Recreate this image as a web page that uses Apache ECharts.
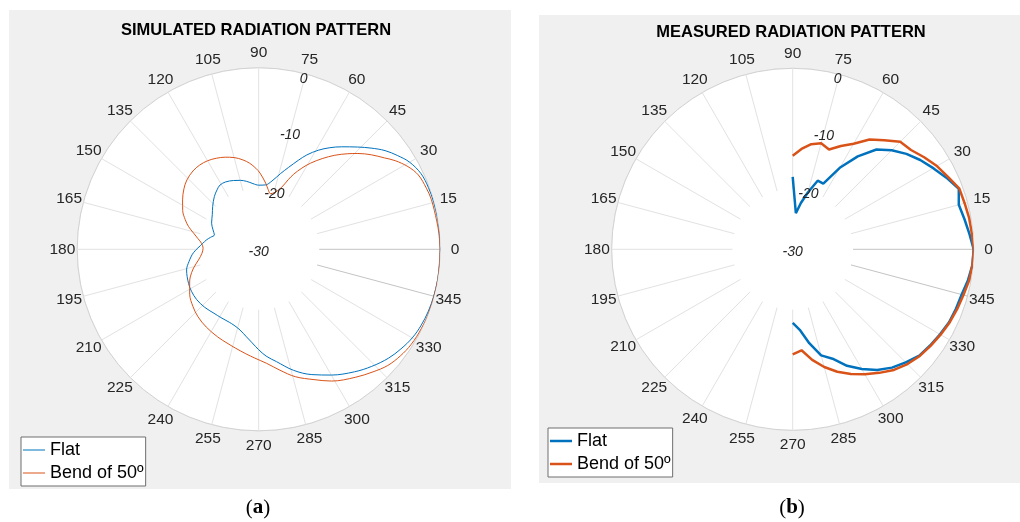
<!DOCTYPE html>
<html><head><meta charset="utf-8">
<script src="https://cdn.jsdelivr.net/npm/echarts@6/dist/echarts.min.js"></script>
<style>html,body{margin:0;padding:0;background:#fff}#c{width:1020px;height:522px}</style>
</head><body><div id="c"></div>
<script>
// ---------- DATA ----------
const seriesNames = ['Flat', 'Bend of 50º'];
const panelTitles = ['SIMULATED RADIATION PATTERN', 'MEASURED RADIATION PATTERN'];
const captions = ['a', 'b'];
const radiusTicks = [-30, -20, -10, 0];
const angleTicks = [0,15,30,45,60,75,90,105,120,135,150,165,180,195,210,225,240,255,270,285,300,315,330,345];

// Simulated (a) — Flat
const simFlatDeg = [0,8,15,20,25,30,34,38,42,46,51,55,59,63,66,70,74,79,84,90,95,100,105,110,116,121,125,130,137,143,151,157,162,166,170,174,183,190,196,206,212,219,227,235,241,248,252,257,262,266,270,274,279,286,293,300,308,314,320,325,330,335,340,345,350,355,360];
const simFlatDb  = [0,0,-0.05,-0.15,-0.4,-1.2,-2.3,-3.5,-5.0,-6.5,-8.2,-9.5,-10.9,-12.5,-13.9,-15.6,-17.0,-18.5,-19.3,-19.4,-19.1,-18.6,-18.2,-17.9,-17.6,-17.6,-18.0,-18.6,-19.6,-20.4,-21.1,-21.8,-22.3,-21.8,-21.2,-20.7,-19.2,-18.3,-17.6,-17.1,-16.9,-16.8,-16.9,-17.1,-17.1,-17.0,-16.8,-16.3,-15.4,-14.5,-13.4,-12.3,-11.2,-9.2,-7.5,-6.0,-4.3,-3.1,-2.0,-1.3,-0.7,-0.35,-0.15,-0.05,0,0,0];
// Simulated (a) — Bend of 50º
const simBendDeg = [0,5,9,16,20,25,29,33,36,40,44,47,51,55,59,62,65,67,70,74,78,81,84,89,92,96,100,105,110,115,120,125,130,136,141,147,153,158,162,166,170,174,179,184,190,196,202,206,213,221,228,236,245,252,257,263,268,274,280,286,293,299,307,313,318,323,328,334,340,350,360];
const simBendDb  = [0,-0.1,-0.2,-0.3,-0.5,-0.9,-1.8,-3.1,-4.3,-5.7,-7.2,-8.4,-10.0,-11.7,-13.4,-14.8,-16.3,-17.5,-19.2,-20.2,-20.6,-20.0,-19.0,-17.4,-16.6,-15.7,-15.0,-14.3,-13.8,-13.4,-13.1,-13.0,-13.1,-13.5,-14.1,-15.0,-15.9,-16.9,-17.8,-18.9,-19.8,-20.5,-20.8,-20.6,-19.9,-18.8,-17.8,-17.3,-16.4,-15.6,-15.0,-14.5,-14.0,-13.6,-13.2,-12.6,-12.0,-11.1,-9.7,-8.1,-6.6,-5.1,-3.5,-2.3,-1.3,-0.7,-0.3,-0.1,0,0,0];

// Measured (b) — 5 degree steps from 270 through 0 to 90
const measDeg = [270,275,280,285,290,295,300,305,310,315,320,325,330,335,340,345,350,355,0,5,10,15,20,25,30,35,40,45,50,55,60,65,70,75,80,85,90];
const measFlatDb = [-17.8,-16.6,-14.2,-11.8,-10.7,-8.7,-7.1,-5.6,-4.4,-3.5,-2.6,-2.2,-1.8,-1.4,-1.2,-1.0,-0.5,-0.1,0,-0.6,-1.1,-1.5,-0.7,-1.9,-3.1,-4.2,-5.4,-6.8,-8.4,-11.2,-14.4,-18.0,-17.9,-20.2,-22.2,-24.0,-18.0];
const measBendDb = [-12.6,-13.2,-11.4,-9.8,-8.4,-7.2,-6.1,-5.0,-3.9,-3.1,-2.5,-2.1,-1.7,-1.3,-1.0,-0.7,-0.3,-0.1,0,-0.2,-0.3,-0.5,-0.6,-1.6,-2.4,-3.4,-4.4,-4.8,-6.4,-7.8,-9.8,-11.1,-12.4,-11.8,-12.3,-13.3,-14.5];

// ---------- STYLE ----------
const FONT = '"Liberation Sans", Arial, Helvetica, sans-serif';
const SERIF = '"Liberation Serif", "DejaVu Serif", serif';
const BLUE = '#0072BD', ORANGE = '#D95319';
const TXT = '#262626';
const LABEL_R = 2.45; // angle labels sit just beyond the 0 dB ring (in axis units)

const chart = echarts.init(document.getElementById('c'), null, {renderer: 'canvas'});

const polars = [
  {center: [258.7, 249.3], radius: 181.5},
  {center: [792.7, 249.3], radius: 181}
];

function angleAxis(i) {
  return {
    polarIndex: i, type: 'value', min: 0, max: 360, interval: 15,
    startAngle: 0, clockwise: false,
    axisLine: {show: true, lineStyle: {color: '#d2d2d2', width: 1}},
    axisTick: {show: false},
    axisLabel: {show: false},
    splitLine: {show: false},
    splitArea: {show: true, areaStyle: {color: ['#ffffff']}}
  };
}
function radiusAxis(i) {
  return {
    polarIndex: i, type: 'value', min: -30, max: 0, interval: 10,
    axisLine: {show: false}, axisTick: {show: false}, axisLabel: {show: false},
    splitLine: {show: true, lineStyle: {color: '#e0e0e0', width: 1}}
  };
}
function spokeSeries(i) {
  return {
    type: 'custom', coordinateSystem: 'polar', polarIndex: i, z: 1, silent: true,
    data: angleTicks.map(a => [0, a]),
    renderItem: (params, api) => {
      const a = api.value(1);
      const p1 = api.coord([-20, a]);
      const p2 = api.coord([0, a]);
      const dark = (a === 0 || a === 345);
      return {type: 'line', shape: {x1: p1[0], y1: p1[1], x2: p2[0], y2: p2[1]},
        style: {stroke: dark ? '#c4c4c4' : '#e2e2e2', lineWidth: 1}};
    }
  };
}
function aLabelSeries(i) {
  return {
    type: 'custom', coordinateSystem: 'polar', polarIndex: i, z: 6, silent: true,
    data: angleTicks.map(a => [LABEL_R, a]),
    renderItem: (params, api) => {
      const a = api.value(1);
      const p = api.coord([api.value(0), a]);
      return {type: 'text', x: p[0], y: p[1],
        style: {text: String(a), fill: TXT, font: '15.5px ' + FONT, align: 'center', verticalAlign: 'middle'}};
    }
  };
}
function rLabelSeries(i) {
  return {
    type: 'custom', coordinateSystem: 'polar', polarIndex: i, z: 6, silent: true,
    data: radiusTicks.map(v => [v, 75]),
    renderItem: (params, api) => {
      const v = api.value(0);
      const p = api.coord([v, api.value(1)]);
      const dy = v === 0 ? 5 : 3;
      return {type: 'text', x: p[0] - (v === 0 ? 2 : 0), y: p[1] + dy,
        style: {text: String(v), fill: TXT, font: 'italic 14px ' + FONT, align: 'center', verticalAlign: 'middle'}};
    }
  };
}
function lineSeries(i, name, deg, db, color, width, smooth) {
  return {
    type: 'line', name: name, coordinateSystem: 'polar', polarIndex: i, z: 3,
    data: deg.map((a, k) => [db[k], a]),
    symbol: 'none', showSymbol: false, smooth: smooth, clip: false,
    lineStyle: {color: color, width: width}, itemStyle: {color: color}
  };
}

function legend(i, left, top, h) {
  return {
    orient: 'vertical', left: left, top: top, selectedMode: false,
    data: seriesNames.map(n => ({name: n, icon: 'rect'})),
    itemWidth: 22, itemHeight: h, itemGap: 5,
    padding: [4, 2, 4, 2],
    backgroundColor: '#ffffff', borderColor: '#6e6e6e', borderWidth: 1, borderRadius: 0,
    textStyle: {color: '#000', fontSize: 18, fontFamily: FONT, lineHeight: 18}
  };
}

const option = {
  animation: false,
  backgroundColor: '#ffffff',
  polar: polars,
  angleAxis: [angleAxis(0), angleAxis(1)],
  radiusAxis: [radiusAxis(0), radiusAxis(1)],
  legend: [legend(0, 21, 437, 1), legend(1, 548, 428, 2.5)],
  graphic: [
    {type: 'rect', z: -100, shape: {x: 9, y: 10, width: 502, height: 479}, style: {fill: '#f0f0f0'}},
    {type: 'rect', z: -100, shape: {x: 539, y: 15, width: 481, height: 468}, style: {fill: '#f0f0f0'}},
    {type: 'text', z: 10, x: 256, y: 30, style: {text: panelTitles[0], font: 'bold 16.5px ' + FONT, fill: '#000', align: 'center', verticalAlign: 'middle'}},
    {type: 'text', z: 10, x: 791, y: 32, style: {text: panelTitles[1], font: 'bold 16.5px ' + FONT, fill: '#000', align: 'center', verticalAlign: 'middle'}},
    {type: 'text', z: 10, x: 258, y: 508, style: {text: '{p|(}{b|' + captions[0] + '}{p|)}', align: 'center', verticalAlign: 'middle',
      rich: {p: {fontFamily: SERIF, fontSize: 21, fill: '#000'}, b: {fontFamily: SERIF, fontSize: 21, fontWeight: 'bold', fill: '#000'}}}},
    {type: 'text', z: 10, x: 792, y: 508, style: {text: '{p|(}{b|' + captions[1] + '}{p|)}', align: 'center', verticalAlign: 'middle',
      rich: {p: {fontFamily: SERIF, fontSize: 21, fill: '#000'}, b: {fontFamily: SERIF, fontSize: 21, fontWeight: 'bold', fill: '#000'}}}}
  ],
  series: [
    spokeSeries(0), spokeSeries(1), aLabelSeries(0), aLabelSeries(1), rLabelSeries(0), rLabelSeries(1),
    lineSeries(0, seriesNames[0], simFlatDeg, simFlatDb, BLUE, 1, 0.35),
    lineSeries(0, seriesNames[1], simBendDeg, simBendDb, ORANGE, 1, 0.35),
    lineSeries(1, seriesNames[0], measDeg, measFlatDb, BLUE, 2.5, false),
    lineSeries(1, seriesNames[1], measDeg, measBendDb, ORANGE, 2.5, false)
  ]
};
chart.setOption(option);
</script></body></html>
